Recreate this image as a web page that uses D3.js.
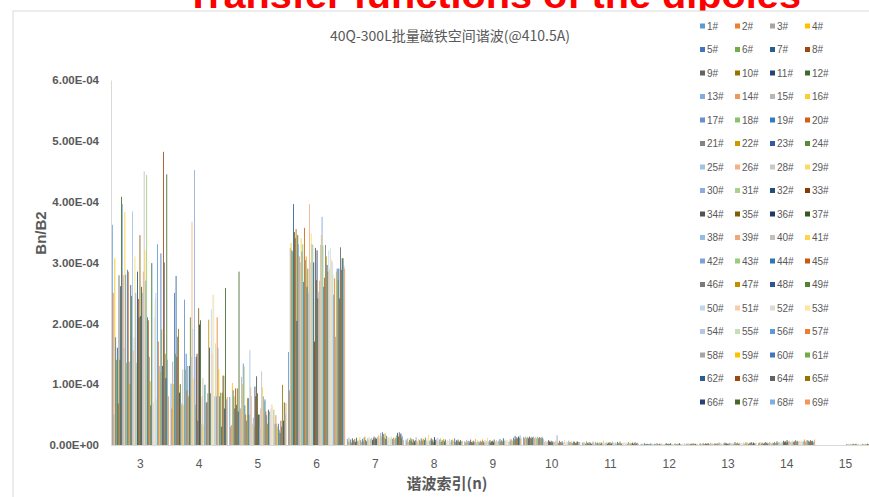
<!DOCTYPE html>
<html>
<head>
<meta charset="utf-8">
<script src="https://cdn.jsdelivr.net/npm/d3@7"></script>
<style>
  html, body { margin: 0; padding: 0; background: #fff; overflow: hidden; }
  text { font-family: "Liberation Sans", "Noto Sans CJK SC", sans-serif; }
</style>
</head>
<body>
<svg id="chart" width="869" height="497"></svg>
<script>
// Harmonic orders on the x axis
const harmonics = [3, 4, 5, 6, 7, 8, 9, 10, 11, 12, 13, 14, 15];

// Magnet serial labels (no 27#)
const magnets = [
  "1#","2#","3#","4#","5#","6#","7#","8#","9#","10#","11#","12#","13#","14#","15#","16#",
  "17#","18#","19#","20#","21#","22#","23#","24#","25#","26#","28#","29#","30#","31#","32#","33#",
  "34#","35#","36#","37#","38#","39#","40#","41#","42#","43#","44#","45#","46#","47#","48#","49#",
  "50#","51#","52#","53#","54#","55#","56#","57#","58#","59#","60#","61#","62#","63#","64#","65#",
  "66#","67#","68#","69#"
];

// Bn/B2 per harmonic, one entry per magnet (in units of 1E-04)
const UNIT = 1e-4;
const n3 = [3.62,2.50,0.50,3.07,1.77,1.40,1.60,0.68,2.79,1.40, 2.61,4.08,3.96,2.79,1.60,3.83,2.80,1.35,2.88,2.85,
            1.37,1.00,2.63,2.45,3.84,1.55,1.77,3.10,2.50,1.35, 2.85,2.40,2.10,3.45,2.12,2.60,2.50,2.85,4.50,3.20,
            2.70,4.44,2.10,2.05,1.45,1.05,0.65,2.99,2.99,0.70, 2.10,2.40,2.50,0.75,3.30,1.70,1.30,1.20,3.15,1.90,
            1.30,4.82,3.00,1.50,1.10,4.45,1.40,0.80];
const n4 = [1.01,0.60,1.37,1.00,2.50,1.50,2.78,1.45,1.78,1.91, 0.86,1.00,0.69,0.66,1.24,0.66,2.39,1.24,1.50,0.90,
            1.30,0.80,1.30,2.10,1.45,3.67,1.91,1.10,4.52,0.66, 1.45,1.50,0.40,2.25,1.98,2.05,0.35,0.80,1.10,0.33,
            0.99,0.99,0.70,0.70,0.85,2.06,1.60,0.85,2.23,1.50, 2.47,2.47,0.80,1.67,0.80,2.10,1.60,1.24,0.80,0.86,
            0.30,0.86,1.14,1.14,0.60,2.58,0.75,0.79];
const n5 = [0.79,0.30,0.33,1.02,0.90,0.80,0.60,0.93,0.66,0.93, 0.55,2.85,0.60,0.60,1.12,1.00,1.34,1.29,0.65,0.50,
            0.40,0.77,0.77,0.50,1.56,0.95,0.80,0.35,0.45,0.30, 0.96,0.80,1.13,0.85,0.50,0.50,0.30,0.60,1.21,0.95,
            0.80,0.72,0.75,0.55,0.49,0.35,0.58,0.55,0.49,0.60, 0.67,0.66,0.58,0.58,0.35,0.49,0.35,0.30,0.35,0.25,
            0.20,0.40,0.30,0.99,0.40,0.70,0.50,0.69];
const n6 = [1.53,0.90,3.24,3.32,3.20,3.18,3.96,3.50,3.40,3.55, 2.04,3.45,3.30,3.10,3.00,3.40,3.18,3.30,2.68,3.57,
            3.04,3.10,2.60,2.90,2.50,3.96,3.00,3.48,3.30,3.29, 3.00,1.70,3.24,2.71,3.20,2.41,2.52,2.70,3.29,3.45,
            3.75,3.28,2.60,2.75,3.29,3.10,2.96,2.85,3.20,2.90, 3.24,3.05,3.02,2.80,2.47,2.74,1.78,2.85,2.90,2.71,
            2.90,2.41,3.25,2.88,3.07,3.07,2.95,2.90];
const n7 = [0.10,0.06,0.12,0.05,0.09,0.04,0.11,0.08,0.06,0.10, 0.05,0.12,0.07,0.06,0.09,0.13,0.08,0.05,0.10,0.07,
            0.12,0.14,0.08,0.06,0.11,0.09,0.13,0.07,0.10,0.12, 0.08,0.11,0.14,0.09,0.12,0.10,0.13,0.16,0.11,0.15,
            0.20,0.14,0.21,0.18,0.12,0.19,0.10,0.15,0.09,0.12, 0.13,0.08,0.11,0.14,0.10,0.12,0.09,0.13,0.11,0.16,
            0.20,0.14,0.21,0.17,0.19,0.12,0.15,0.08];
const n8 = [0.09,0.06,0.11,0.05,0.08,0.12,0.07,0.10,0.04,0.09, 0.06,0.08,0.13,0.07,0.05,0.10,0.08,0.06,0.11,0.09,
            0.07,0.10,0.08,0.12,0.06,0.09,0.05,0.17,0.07,0.08, 0.11,0.06,0.09,0.05,0.13,0.08,0.10,0.07,0.12,0.06,
            0.09,0.11,0.05,0.08,0.07,0.10,0.06,0.09,0.04,0.08, 0.07,0.06,0.10,0.05,0.08,0.09,0.06,0.07,0.11,0.05,
            0.08,0.06,0.09,0.07,0.05,0.08,0.06,0.07];
const n9 = [0.06,0.04,0.08,0.05,0.07,0.03,0.06,0.09,0.05,0.04, 0.07,0.05,0.06,0.10,0.04,0.08,0.05,0.06,0.04,0.07,
            0.05,0.09,0.06,0.04,0.08,0.05,0.07,0.12,0.06,0.05, 0.08,0.04,0.06,0.07,0.05,0.09,0.04,0.06,0.08,0.05,
            0.07,0.06,0.10,0.05,0.08,0.06,0.11,0.07,0.09,0.06, 0.08,0.07,0.05,0.09,0.06,0.10,0.08,0.07,0.12,0.09,
            0.15,0.10,0.13,0.11,0.14,0.12,0.16,0.11];
const n10 = [0.13,0.11,0.14,0.10,0.12,0.13,0.11,0.14,0.12,0.10, 0.13,0.12,0.14,0.11,0.13,0.10,0.12,0.14,0.11,0.13,
             0.12,0.10,0.13,0.11,0.09,0.05,0.07,0.04,0.06,0.05, 0.08,0.06,0.05,0.07,0.04,0.06,0.03,0.05,0.07,0.04,
             0.16,0.05,0.03,0.07,0.05,0.04,0.06,0.03,0.05,0.08, 0.04,0.06,0.05,0.03,0.07,0.04,0.05,0.06,0.03,0.04,
             0.06,0.05,0.03,0.04,0.06,0.05,0.04,0.05];
const n11 = [0.04,0.02,0.05,0.03,0.02,0.06,0.03,0.04,0.02,0.05, 0.03,0.02,0.04,0.06,0.03,0.02,0.05,0.03,0.04,0.02,
             0.03,0.05,0.02,0.04,0.03,0.07,0.02,0.04,0.03,0.05, 0.02,0.04,0.03,0.05,0.02,0.03,0.06,0.04,0.02,0.03,
             0.04,0.02,0.05,0.03,0.04,0.06,0.03,0.02,0.04,0.03, 0.05,0.02,0.03,0.04,0.02,0.05,0.03,0.04,0.02,0.03,
             0.04,0.02,0.03,0.05,0.02,0.03,0.04,0.02];
const n12 = [0.02,0.01,0.02,0.01,0.03,0.01,0.02,0.01,0.02,0.01, 0.01,0.02,0.03,0.01,0.02,0.01,0.02,0.02,0.01,0.03,
             0.02,0.01,0.02,0.01,0.03,0.02,0.01,0.02,0.01,0.02, 0.03,0.01,0.02,0.02,0.01,0.03,0.02,0.01,0.02,0.01,
             0.02,0.03,0.01,0.02,0.01,0.02,0.03,0.01,0.02,0.02, 0.01,0.02,0.03,0.01,0.02,0.01,0.03,0.02,0.01,0.02,
             0.02,0.01,0.03,0.02,0.01,0.02,0.01,0.02];
const n13 = [0.02,0.03,0.01,0.02,0.03,0.02,0.01,0.03,0.02,0.02, 0.03,0.01,0.02,0.04,0.02,0.03,0.01,0.02,0.03,0.02,
             0.02,0.03,0.01,0.04,0.02,0.03,0.02,0.01,0.03,0.02, 0.04,0.02,0.03,0.02,0.01,0.03,0.02,0.04,0.02,0.03,
             0.02,0.03,0.05,0.02,0.03,0.04,0.02,0.03,0.02,0.04, 0.03,0.02,0.04,0.03,0.02,0.05,0.03,0.04,0.02,0.03,
             0.04,0.03,0.05,0.02,0.04,0.03,0.02,0.04];
const n14 = [0.03,0.04,0.02,0.05,0.03,0.04,0.02,0.03,0.05,0.03, 0.04,0.02,0.03,0.05,0.04,0.03,0.02,0.04,0.03,0.05,
             0.03,0.04,0.06,0.03,0.05,0.04,0.03,0.06,0.04,0.05, 0.07,0.05,0.06,0.04,0.08,0.05,0.06,0.07,0.05,0.06,
             0.04,0.07,0.05,0.06,0.08,0.05,0.07,0.06,0.04,0.07, 0.06,0.08,0.05,0.07,0.06,0.09,0.05,0.07,0.08,0.06,
             0.07,0.05,0.08,0.06,0.07,0.05,0.06,0.09];
const n15 = [0,0,0,0,0,0,0,0,0,0, 0,0,0,0,0,0,0,0,0,0,
             0,0,0,0,0,0,0,0,0,0, 0,0,0,0,0,0.01,0.01,0.02,0.01,0.01,
             0.02,0.01,0.01,0.02,0.01,0.01,0.02,0.01,0.01,0.02, 0.01,0.02,0.01,0.01,0.02,0.01,0.01,0.02,0.01,0.01,
             0.02,0.01,0.01,0.02,0.01,0.01,0.02,0.01];

const byHarmonic = [n3, n4, n5, n6, n7, n8, n9, n10, n11, n12, n13, n14, n15];

// Y axis tick values
const yTicks = [0, 1e-4, 2e-4, 3e-4, 4e-4, 5e-4, 6e-4];

// Office-style series colour cycle (6 accents x 9 variations)
const palette = [
  "#5B9BD5","#ED7D31","#A5A5A5","#FFC000","#4472C4","#70AD47",
  "#255E91","#9E480E","#636363","#997300","#264478","#43682B",
  "#7CAFDD","#F1975A","#B7B7B7","#FFCD33","#698ED0","#8CC168",
  "#327DC2","#D26012","#848484","#CC9A00","#335AA1","#5A8A39",
  "#9DC3E6","#F4B183","#C9C9C9","#FFD966","#8FAADC","#A9D18E",
  "#1F4E79","#843C0C","#525252","#7F6000","#203864","#385723",
  "#94BDE3","#F3A676","#C0C0C0","#FFD54D","#7F9FD8","#9BCB7B",
  "#2E75B6","#C55A11","#7B7B7B","#BF9000","#2F5597","#548235",
  "#BDD7EE","#F8CBAD","#DBDBDB","#FFE699","#B4C7E7","#C5E0B4"
];
const colorOf = i => palette[i % palette.length];

// Build tidy rows: one per (harmonic, magnet)
const rows = [];
harmonics.forEach((h, hi) => {
  magnets.forEach((m, mi) => {
    const v = byHarmonic[hi][mi];
    rows.push({ h: String(h), m, mi, value: (v == null ? 0 : v) * UNIT });
  });
});

const svg = d3.select("#chart");
const W = 869, H = 497;
const plot = { left: 111, top: 80, bottom: 445 };
const bandStep = 58.75;

// Slide heading partly above the chart frame
svg.append("text")
  .attr("x", 186).attr("y", 8)
  .attr("fill", "#FF0000")
  .attr("font-size", 36).attr("font-weight", "bold")
  .attr("textLength", 615).attr("lengthAdjust", "spacingAndGlyphs")
  .text("Transfer functions of the dipoles");

// Chart frame
svg.append("rect")
  .attr("x", 13).attr("y", 11).attr("width", W).attr("height", H)
  .attr("fill", "#fff").attr("stroke", "#D9D9D9").attr("stroke-width", 1);

const x0 = d3.scaleBand()
  .domain(harmonics.map(String))
  .range([plot.left, plot.left + bandStep * harmonics.length])
  .paddingInner(0.03).paddingOuter(0.015);
const x1 = d3.scaleBand()
  .domain(magnets)
  .range([0, x0.bandwidth()]);
const y = d3.scaleLinear().domain([0, 6e-4]).range([plot.bottom, plot.top]);

const fmtE = v => {
  const [mant, ex] = v.toExponential(2).split("e");
  const sign = ex[0] === "-" ? "-" : "+";
  const p = String(Math.abs(+ex)).padStart(2, "0");
  return mant + "E" + sign + p;
};

// Bars
svg.append("g").selectAll("rect")
  .data(rows)
  .join("rect")
  .attr("x", d => x0(d.h) + x1(d.m))
  .attr("width", x1.bandwidth())
  .attr("y", d => y(d.value))
  .attr("height", d => plot.bottom - y(d.value))
  .attr("fill", d => colorOf(d.mi));

// Axes
const xAxis = svg.append("g")
  .attr("transform", `translate(0,${plot.bottom})`)
  .call(d3.axisBottom(x0).tickSize(0).tickPadding(14));
xAxis.select(".domain").attr("stroke", "#D9D9D9");
xAxis.selectAll("text")
  .attr("fill", "#595959").attr("font-size", 12);

const yAxis = svg.append("g")
  .attr("transform", `translate(${plot.left},0)`)
  .call(d3.axisLeft(y).tickValues(yTicks).tickFormat(fmtE).tickSize(0).tickPadding(12));
yAxis.select(".domain").attr("stroke", "#D9D9D9");
yAxis.selectAll("text")
  .attr("fill", "#595959").attr("font-size", 11.5).attr("font-weight", "bold");

// Titles
svg.append("text")
  .attr("x", 450).attr("y", 41)
  .attr("text-anchor", "middle")
  .attr("fill", "#595959").attr("font-size", 14)
  .style("font-family", '"Noto Sans CJK SC", sans-serif')
  .text("40Q-300L批量磁铁空间谐波(@410.5A)");

svg.append("text")
  .attr("transform", "translate(46,233) rotate(-90)")
  .attr("text-anchor", "middle")
  .attr("fill", "#595959").attr("font-size", 15).attr("font-weight", "bold")
  .text("Bn/B2");

svg.append("text")
  .attr("x", 447).attr("y", 489)
  .attr("text-anchor", "middle")
  .attr("fill", "#595959").attr("font-size", 15).attr("font-weight", "bold")
  .style("font-family", '"Noto Sans CJK SC", sans-serif')
  .text("谐波索引(n)");

// Legend: 4 columns
const legend = svg.append("g");
const items = legend.selectAll("g")
  .data(magnets)
  .join("g")
  .attr("transform", (d, i) => `translate(${700 + (i % 4) * 35},${26 + Math.floor(i / 4) * 23.5})`);
items.append("rect")
  .attr("x", 0).attr("y", -2.5).attr("width", 5).attr("height", 5)
  .attr("fill", (d, i) => colorOf(i));
items.append("text")
  .attr("x", 7).attr("y", 0).attr("dy", "0.35em")
  .attr("fill", "#595959").attr("font-size", 10)
  .text(d => d);
</script>
</body>
</html>
